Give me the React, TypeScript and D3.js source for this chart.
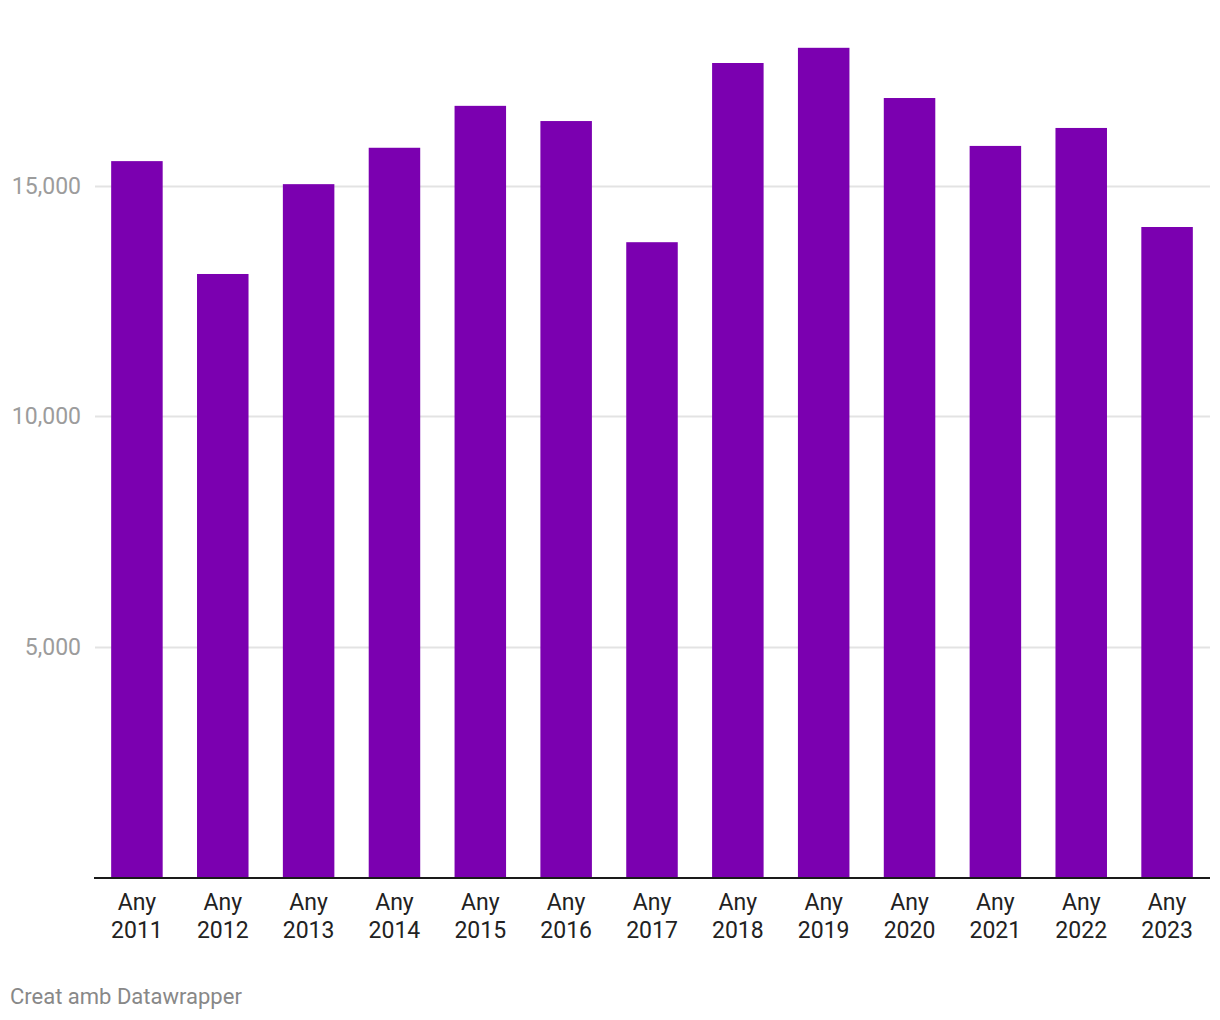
import React, { useRef, useEffect } from "react";
import * as d3 from "d3";

const years = ["2011", "2012", "2013", "2014", "2015", "2016", "2017", "2018", "2019", "2020", "2021", "2022", "2023"];
const values = [15540, 13090, 15040, 15830, 16740, 16410, 13780, 17670, 18000, 16910, 15870, 16260, 14110];
const yTicks = [5000, 10000, 15000];

const W = 1220;
const H = 1020;

const App = () => {
  const ref = useRef<SVGSVGElement>(null);

  useEffect(() => {
    const svg = d3.select(ref.current);
    svg.selectAll("*").remove();

    const margin = { top: 20, right: 10, bottom: 143, left: 94 };

    const x = d3
      .scaleBand()
      .domain(years)
      .range([margin.left, W - margin.right])
      .paddingInner(0.4)
      .paddingOuter(0.2);

    const y = d3
      .scaleLinear()
      .domain([0, 15000])
      .range([H - margin.bottom, 186]);

    // gridlines
    svg
      .append("g")
      .selectAll("line")
      .data(yTicks)
      .join("line")
      .attr("x1", margin.left + 1)
      .attr("x2", W - margin.right)
      .attr("y1", (d) => Math.round(y(d)) + 0.5)
      .attr("y2", (d) => Math.round(y(d)) + 0.5)
      .attr("stroke", "#e3e3e3")
      .attr("stroke-width", 2);

    svg
      .append("g")
      .selectAll("text")
      .data(yTicks)
      .join("text")
      .attr("x", 81)
      .attr("y", (d) => y(d))
      .attr("dy", "0.35em")
      .attr("text-anchor", "end")
      .attr("font-family", "Roboto")
      .attr("font-size", 23)
      .attr("fill", "#9c9c9c")
      .text((d) => d3.format(",")(d));

    // bars
    svg
      .append("g")
      .selectAll("rect")
      .data(values)
      .join("rect")
      .attr("x", (d, i) => x(years[i])!)
      .attr("width", x.bandwidth())
      .attr("y", (d) => y(d))
      .attr("height", (d) => y(0) - y(d))
      .attr("fill", "#7b00b0");

    // baseline
    svg
      .append("line")
      .attr("x1", margin.left)
      .attr("x2", W - margin.right)
      .attr("y1", y(0) + 1)
      .attr("y2", y(0) + 1)
      .attr("stroke", "#1a1a1a")
      .attr("stroke-width", 2);

    // x labels
    const lab = svg
      .append("g")
      .selectAll("text")
      .data(years)
      .join("text")
      .attr("text-anchor", "middle")
      .attr("font-family", "Roboto")
      .attr("font-size", 23)
      .attr("fill", "#222");
    lab
      .append("tspan")
      .attr("x", (d) => x(d)! + x.bandwidth() / 2)
      .attr("y", 910)
      .text("Any");
    lab
      .append("tspan")
      .attr("x", (d) => x(d)! + x.bandwidth() / 2)
      .attr("y", 938)
      .text((d) => d);

    svg
      .append("text")
      .attr("x", 10)
      .attr("y", 1004)
      .attr("font-family", "Roboto")
      .attr("font-size", 22)
      .attr("fill", "#888")
      .text("Creat amb Datawrapper");
  }, []);

  return (
    <svg
      ref={ref}
      width={W}
      height={H}
      style={{ position: "absolute", left: 0, top: 0, background: "#fff" }}
    />
  );
};

export default App;
